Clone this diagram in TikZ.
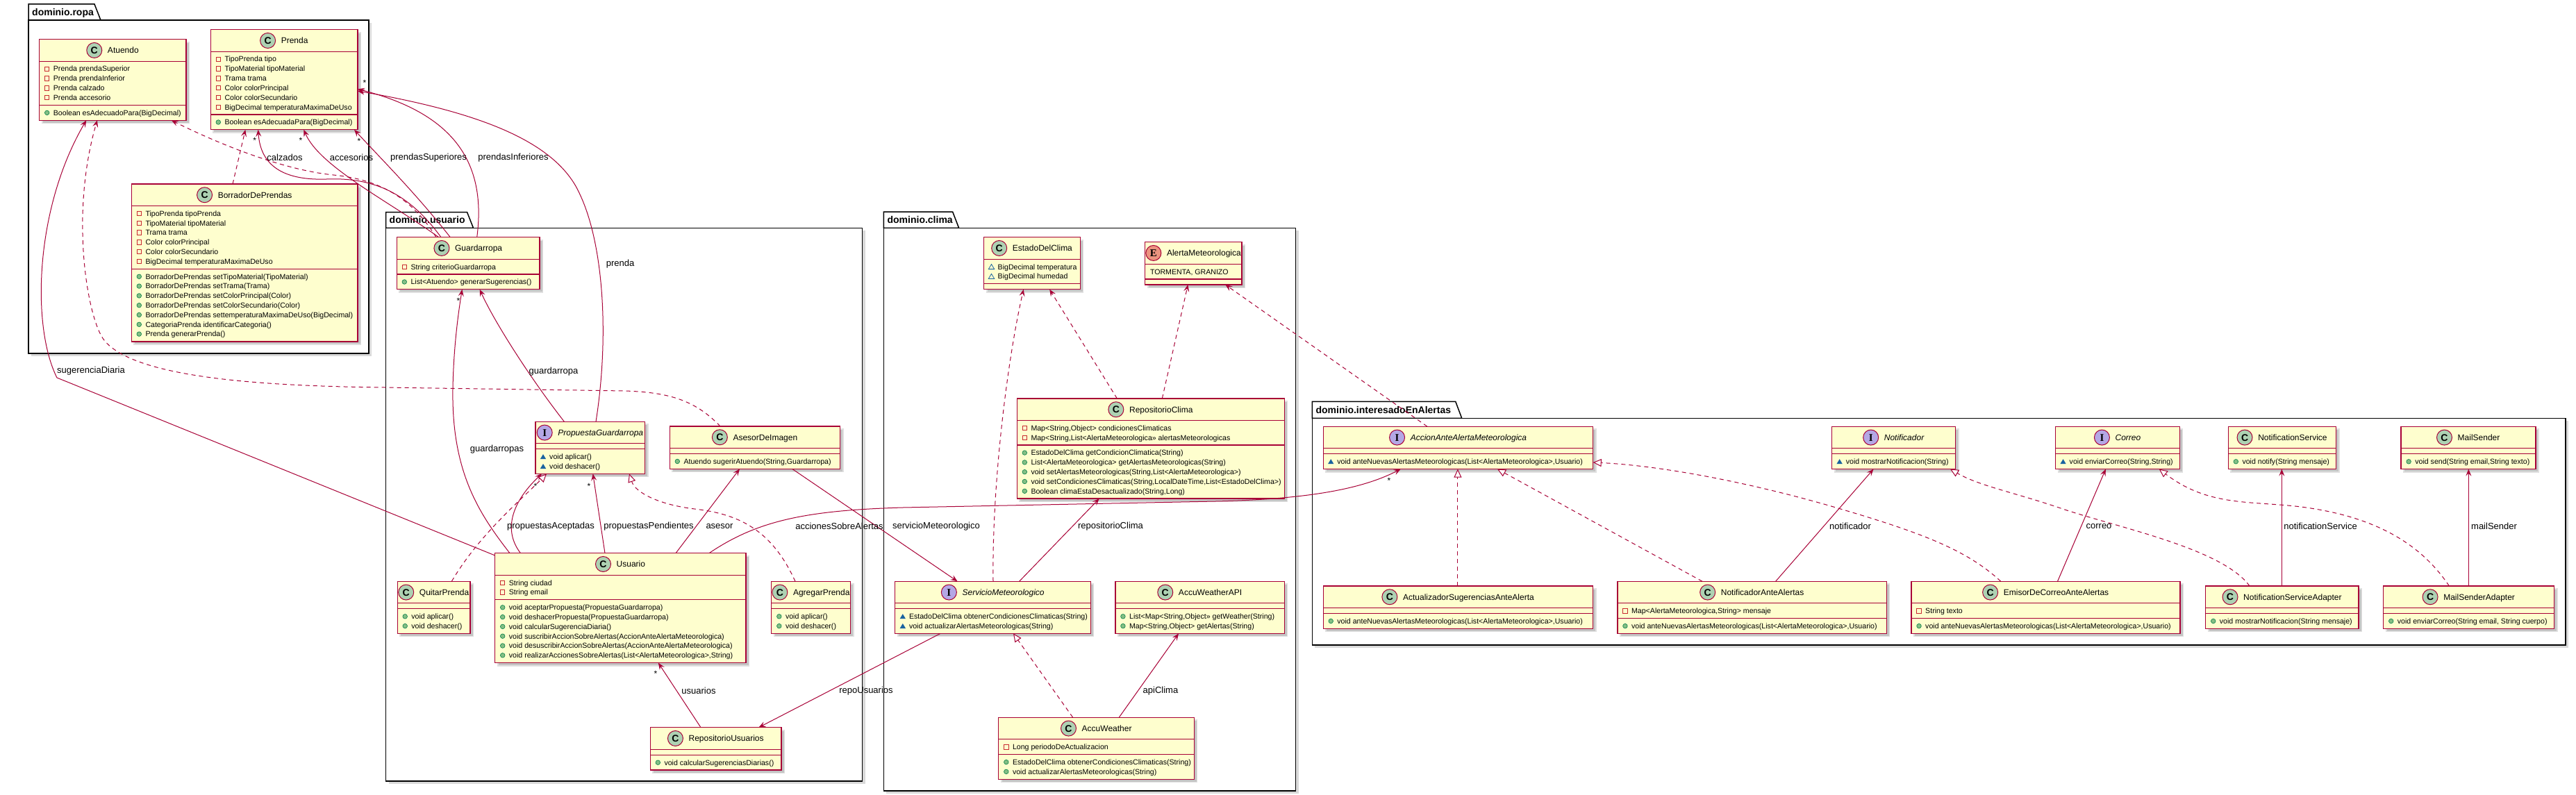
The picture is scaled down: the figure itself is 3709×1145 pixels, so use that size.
\documentclass[tikz,border=0pt]{standalone}
\usepackage{fontspec}
\setmainfont{Liberation Sans}
\newfontfamily\iconsans{Liberation Sans}
\newfontfamily\iconserif{Liberation Serif}
\usetikzlibrary{calc,arrows.meta}

\definecolor{umlborder}{HTML}{A80036}
\definecolor{umlfill}{HTML}{FEFECE}
\definecolor{iconC}{HTML}{ADD1B2}
\definecolor{iconI}{HTML}{B4A7E5}
\definecolor{iconE}{HTML}{EB937F}
\definecolor{visPriv}{HTML}{C82930}
\definecolor{visPubFill}{HTML}{84BE84}
\definecolor{visPubLine}{HTML}{038048}
\definecolor{visPkg}{HTML}{1963A0}

\tikzset{
  classbox/.style={rectangle, draw=umlborder, fill=umlfill, line width=1.3pt, inner sep=0pt, outer sep=0pt},
  classsep/.style={draw=umlborder, line width=1.3pt},
  titletext/.style={inner sep=0pt, font=\fontsize{12}{14}\selectfont},
  memtext/.style={inner sep=0pt, anchor=base west, font=\fontsize{10.6}{13}\selectfont},
  lbl/.style={inner sep=0pt, font=\fontsize{13}{15}\selectfont},
  mult/.style={inner sep=0pt, font=\fontsize{12}{14}\selectfont},
  pkgtitle/.style={inner sep=0pt, anchor=base west, font=\fontsize{14}{16}\selectfont\bfseries},
  conn/.style={draw=umlborder, line width=1pt},
  assoc/.style={conn, -{Stealth[length=10pt,width=8pt,inset=4pt]}},
  dep/.style={assoc, dash pattern=on 6pt off 5pt},
  real/.style={conn, dash pattern=on 6pt off 5pt, -{Triangle[length=12pt,width=11pt,fill=white]}},
}

\newcommand\umlifC{\iconsans\bfseries\fontsize{14}{14}\selectfont}
\newcommand\umlifI{\iconserif\bfseries\fontsize{15}{15}\selectfont}
\newcommand\umlifE{\iconserif\bfseries\fontsize{15}{15}\selectfont}

\newcount\umlcnt
\newcommand\umlcount[1]{\global\umlcnt=0\relax
  \foreach \umlk/\umlt in {#1}{\ifx\umlk\empty\else\global\advance\umlcnt by 1\relax\fi}}

% #1 class node, #2 y of line centre (from top), #3 kind, #4 text, #5 suffix
\newcommand\umlmember[5]{%
  \if f#3\draw[visPriv, line width=0.9pt] ($(#1.north west)+(7.8,#2-3.2)$) rectangle ++(6.4,6.4);\fi
  \if m#3\filldraw[fill=visPubFill, draw=visPubLine, line width=0.6pt] ($(#1.north west)+(11,#2)$) circle (3.3pt);\fi
  \if p#3\fill[visPkg] ($(#1.north west)+(11,#2-3.6)$) -- ++(4.2,7) -- ++(-8.4,0) -- cycle;\fi
  \if q#3\draw[visPkg, line width=0.8pt] ($(#1.north west)+(11,#2-3.6)$) -- ++(4.2,7) -- ++(-8.4,0) -- cycle;\fi
  \if n#3\node[memtext] (#1-#5) at ($(#1.north west)+(7,#2+3.8)$) {#4};%
  \else\node[memtext] (#1-#5) at ($(#1.north west)+(20,#2+3.8)$) {#4};\fi
}

% #1 name, #2 x1, #3 y1, #4 x2, #5 kind, #6 title, #7 attributes, #8 methods
\newcommand\umlclass[8]{%
  \umlcount{#7}\edef\umlna{\the\umlcnt}%
  \umlcount{#8}\edef\umlnm{\the\umlcnt}%
  \pgfmathsetmacro\umlA{31.5}%
  \pgfmathsetmacro\umlB{\umlA+13.8*\umlna+8}%
  \pgfmathsetmacro\umlC{\umlB+13.8*\umlnm+8}%
  \pgfmathsetmacro\umlW{#4-#2}%
  \fill[black,opacity=0.12] ({#2+3},{#3+3}) rectangle ({#4+5},{#3+\umlC+5});%
  \fill[black,opacity=0.12] ({#2+5},{#3+5}) rectangle ({#4+3.5},{#3+\umlC+3.5});%
  \node[classbox, minimum width=\umlW pt, minimum height=\umlC pt, anchor=north west] (#1) at (#2,#3) {};%
  \draw[classsep] ($(#1.north west)+(0,\umlA)$) -- ($(#1.north east)+(0,\umlA)$);%
  \draw[classsep] ($(#1.north west)+(0,\umlB)$) -- ($(#1.north east)+(0,\umlB)$);%
  \node[titletext, anchor=base] (#1-title) at ($(#1.north)+(15,20.05)$) {#6};%
  \filldraw[fill=icon#5, draw=umlborder, line width=1pt] ($(#1-title.base west)+(-19,-4.3)$) circle (11pt);%
  \node[inner sep=0pt, anchor=base, font=\csname umlif#5\endcsname] (#1-icon) at ($(#1-title.base west)+(-19,0.8)$) {#5};%
  \foreach \umlk/\umlt [count=\umli from 0] in {#7}{\ifx\umlk\empty\else
    \pgfmathsetmacro\umly{\umlA+11+13.8*\umli}%
    \umlmember{#1}{\umly}{\umlk}{\umlt}{a\umli}\fi}%
  \foreach \umlk/\umlt [count=\umli from 0] in {#8}{\ifx\umlk\empty\else
    \pgfmathsetmacro\umly{\umlB+11+13.8*\umli}%
    \umlmember{#1}{\umly}{\umlk}{\umlt}{m\umli}\fi}%
}

% #1 name, #2 x left, #3 tab top, #4 tab right, #5 body top, #6 x right, #7 bottom, #8 title
\newcommand\umlpackage[8]{%
  \fill[black,opacity=0.15] ({#2+4},{#5+4}) rectangle ({#6+4},{#7+4});%
  \filldraw[fill=white, draw=black, line width=1.5pt] (#2,#5) -- (#2,#3) -- ({#4-9},#3) -- (#4,#5) -- cycle;%
  \filldraw[fill=white, draw=black, line width=1.5pt] (#2,#5) rectangle (#6,#7);%
  \node[pkgtitle] (#1) at ({#2+5},{(#3+#5)/2+5}) {#8};%
}

\begin{document}
\begin{tikzpicture}[x=1pt,y=-1pt]
\useasboundingbox (0,0) rectangle (3709,1145);
\fill[white] (0,0) rectangle (3709,1145);

% ---------------- packages
\umlpackage{pkg-ropa}{41}{6}{145}{29}{531}{509}{dominio.ropa}
\umlpackage{pkg-usuario}{555.5}{305.5}{681.5}{328.3}{1241.7}{1125}{dominio.usuario}
\umlpackage{pkg-clima}{1272.4}{305}{1380.6}{328.3}{1865.5}{1139}{dominio.clima}
\umlpackage{pkg-alertas}{1889.4}{578.3}{2104.7}{602.3}{3694}{929}{dominio.interesadoEnAlertas}

% ---------------- dominio.ropa
\umlclass{Atuendo}{56.7}{56.7}{268}{C}{Atuendo}{%
f/{Prenda prendaSuperior},%
f/{Prenda prendaInferior},%
f/{Prenda calzado},%
f/{Prenda accesorio}}{%
m/{Boolean esAdecuadoPara(BigDecimal)}}

\umlclass{Prenda}{303.3}{42.7}{515}{C}{Prenda}{%
f/{TipoPrenda tipo},%
f/{TipoMaterial tipoMaterial},%
f/{Trama trama},%
f/{Color colorPrincipal},%
f/{Color colorSecundario},%
f/{BigDecimal temperaturaMaximaDeUso}}{%
m/{Boolean esAdecuadaPara(BigDecimal)}}

\umlclass{BorradorDePrendas}{189.3}{265}{515}{C}{BorradorDePrendas}{%
f/{TipoPrenda tipoPrenda},%
f/{TipoMaterial tipoMaterial},%
f/{Trama trama},%
f/{Color colorPrincipal},%
f/{Color colorSecundario},%
f/{BigDecimal temperaturaMaximaDeUso}}{%
m/{BorradorDePrendas setTipoMaterial(TipoMaterial)},%
m/{BorradorDePrendas setTrama(Trama)},%
m/{BorradorDePrendas setColorPrincipal(Color)},%
m/{BorradorDePrendas setColorSecundario(Color)},%
m/{BorradorDePrendas settemperaturaMaximaDeUso(BigDecimal)},%
m/{CategoriaPrenda identificarCategoria()},%
m/{Prenda generarPrenda()}}

% ---------------- dominio.usuario
\umlclass{Guardarropa}{571.3}{341.7}{777}{C}{Guardarropa}{%
f/{String criterioGuardarropa}}{%
m/{List<Atuendo> generarSugerencias()}}

\umlclass{PropuestaGuardarropa}{771}{607.3}{928.5}{I}{\itshape PropuestaGuardarropa}{}{%
p/{void aplicar()},%
p/{void deshacer()}}

\umlclass{AsesorDeImagen}{964.3}{614}{1209.5}{C}{AsesorDeImagen}{}{%
m/{Atuendo sugerirAtuendo(String,Guardarropa)}}

\umlclass{Usuario}{712.7}{796.7}{1074}{C}{Usuario}{%
f/{String ciudad},%
f/{String email}}{%
m/{void aceptarPropuesta(PropuestaGuardarropa)},%
m/{void deshacerPropuesta(PropuestaGuardarropa)},%
m/{void calcularSugerenciaDiaria()},%
m/{void suscribirAccionSobreAlertas(AccionAnteAlertaMeteorologica)},%
m/{void desuscribirAccionSobreAlertas(AccionAnteAlertaMeteorologica)},%
m/{void realizarAccionesSobreAlertas(List<AlertaMeteorologica>,String)}}

\umlclass{QuitarPrenda}{572.2}{837.3}{677}{C}{QuitarPrenda}{}{%
m/{void aplicar()},%
m/{void deshacer()}}

\umlclass{AgregarPrenda}{1110.8}{837.3}{1224.7}{C}{AgregarPrenda}{}{%
m/{void aplicar()},%
m/{void deshacer()}}

\umlclass{RepositorioUsuarios}{936.3}{1047.7}{1125}{C}{RepositorioUsuarios}{}{%
m/{void calcularSugerenciasDiarias()}}

% ---------------- dominio.clima
\umlclass{EstadoDelClima}{1416.5}{341.7}{1555.3}{C}{EstadoDelClima}{%
q/{BigDecimal temperatura},%
q/{BigDecimal humedad}}{}

\umlclass{AlertaMeteorologica}{1648.8}{348.7}{1788}{E}{AlertaMeteorologica}{%
n/{TORMENTA, GRANIZO}}{}

\umlclass{RepositorioClima}{1464.3}{574}{1849.2}{C}{RepositorioClima}{%
f/{Map<String,Object> condicionesClimaticas},%
f/{Map<String,List<AlertaMeteorologica>> alertasMeteorologicas}}{%
m/{EstadoDelClima getCondicionClimatica(String)},%
m/{List<AlertaMeteorologica> getAlertasMeteorologicas(String)},%
m/{void setAlertasMeteorologicas(String,List<AlertaMeteorologica>)},%
m/{void setCondicionesClimaticas(String,LocalDateTime,List<EstadoDelClima>)},%
m/{Boolean climaEstaDesactualizado(String,Long)}}

\umlclass{ServicioMeteorologico}{1288.8}{837.3}{1570.4}{I}{\itshape ServicioMeteorologico}{}{%
p/{EstadoDelClima obtenerCondicionesClimaticas(String)},%
p/{void actualizarAlertasMeteorologicas(String)}}

\umlclass{AccuWeatherAPI}{1605.9}{837.3}{1849.2}{C}{AccuWeatherAPI}{}{%
m/{List<Map<String,Object>> getWeather(String)},%
m/{Map<String,Object> getAlertas(String)}}

\umlclass{AccuWeather}{1437.8}{1033.3}{1719.4}{C}{AccuWeather}{%
f/{Long periodoDeActualizacion}}{%
m/{EstadoDelClima obtenerCondicionesClimaticas(String)},%
m/{void actualizarAlertasMeteorologicas(String)}}

% ---------------- dominio.interesadoEnAlertas
\umlclass{AccionAnteAlertaMeteorologica}{1905.2}{614.3}{2293.7}{I}{\itshape AccionAnteAlertaMeteorologica}{}{%
p/{void anteNuevasAlertasMeteorologicas(List<AlertaMeteorologica>,Usuario)}}

\umlclass{Notificador}{2637.6}{614.3}{2815.5}{I}{\itshape Notificador}{}{%
p/{void mostrarNotificacion(String)}}

\umlclass{Correo}{2959.5}{614.3}{3138.4}{I}{\itshape Correo}{}{%
p/{void enviarCorreo(String,String)}}

\umlclass{NotificationService}{3208.3}{614.3}{3363.5}{C}{NotificationService}{}{%
m/{void notify(String mensaje)}}

\umlclass{MailSender}{3457.1}{614.3}{3650.9}{C}{MailSender}{}{%
m/{void send(String email,String texto)}}

\umlclass{ActualizadorSugerenciasAnteAlerta}{1905.2}{844}{2293.7}{C}{ActualizadorSugerenciasAnteAlerta}{}{%
m/{void anteNuevasAlertasMeteorologicas(List<AlertaMeteorologica>,Usuario)}}

\umlclass{NotificadorAnteAlertas}{2328.9}{837.3}{2716.2}{C}{NotificadorAnteAlertas}{%
f/{Map<AlertaMeteorologica,String> mensaje}}{%
m/{void anteNuevasAlertasMeteorologicas(List<AlertaMeteorologica>,Usuario)}}

\umlclass{EmisorDeCorreoAnteAlertas}{2752}{837.3}{3139}{C}{EmisorDeCorreoAnteAlertas}{%
f/{String texto}}{%
m/{void anteNuevasAlertasMeteorologicas(List<AlertaMeteorologica>,Usuario)}}

\umlclass{NotificationServiceAdapter}{3175.7}{844}{3396.1}{C}{NotificationServiceAdapter}{}{%
m/{void mostrarNotificacion(String mensaje)}}

\umlclass{MailSenderAdapter}{3431.7}{844}{3677.5}{C}{MailSenderAdapter}{}{%
m/{void enviarCorreo(String email, String cuerpo)}}

% ================= connectors
% ropa
\draw[assoc] (Usuario.west |- 0,800) -- (82,544) .. controls (45,470) and (50,300) .. (124.3,0 |- Atuendo.south);
\draw[dep] (1037,0 |- AsesorDeImagen.north) .. controls (1000,575) and (960,565) .. (900,563) -- (555,558) .. controls (350,556) and (190,540) .. (150,490) .. controls (126,460) and (100,310) .. (140,0 |- Atuendo.south);
\draw[dep] (628,0 |- Guardarropa.north) .. controls (590,280) and (540,258) .. (480,252) .. controls (400,244) and (300,200) .. (246.7,0 |- Atuendo.south);
\draw[dep] (335,0 |- BorradorDePrendas.north) -- (353.3,0 |- Prenda.south);
\draw[assoc] (635,0 |- Guardarropa.north) .. controls (590,280) and (540,255) .. (470,258) .. controls (410,260) and (375,240) .. (371.7,0 |- Prenda.south);
\draw[assoc] (631.7,0 |- Guardarropa.north) .. controls (560,290) and (460,240) .. (437.3,0 |- Prenda.south);
\draw[assoc] (648.3,0 |- Guardarropa.north) .. controls (600,280) and (550,230) .. (510,0 |- Prenda.south);
\draw[assoc] (686.7,0 |- Guardarropa.north) .. controls (700,240) and (660,165) .. (Prenda.east |- 0,128.3);
\draw[assoc] (858,0 |- PropuestaGuardarropa.north) .. controls (878,480) and (868,350) .. (835,280) .. controls (800,200) and (680,160) .. (Prenda.east |- 0,131);

% usuario
\draw[assoc] (734,0 |- Usuario.north) .. controls (690,740) and (650,680) .. (652,560) .. controls (653,500) and (660,450) .. (665.4,0 |- Guardarropa.south);
\draw[assoc] (812.4,0 |- PropuestaGuardarropa.north) .. controls (760,540) and (710,460) .. (690.7,0 |- Guardarropa.south);
\draw[assoc] (749.5,0 |- Usuario.north) .. controls (725,765) and (735,725) .. (780,0 |- PropuestaGuardarropa.south);
\draw[real] (650.3,0 |- QuitarPrenda.north) .. controls (690,770) and (750,720) .. (787,0 |- PropuestaGuardarropa.south);
\draw[assoc] (871,0 |- Usuario.north) -- (853.7,0 |- PropuestaGuardarropa.south);
\draw[real] (1145,0 |- AgregarPrenda.north) .. controls (1110,760) and (1060,740) .. (1000,733) .. controls (950,727) and (915,710) .. (906,0 |- PropuestaGuardarropa.south);
\draw[assoc] (973,0 |- Usuario.north) -- (1065,0 |- AsesorDeImagen.south);
\draw[assoc] (1140.6,0 |- AsesorDeImagen.south) -- (1378.6,0 |- ServicioMeteorologico.north);
\draw[assoc] (1021,0 |- Usuario.north) .. controls (1090,750) and (1160,735) .. (1300,731) -- (1750,722) .. controls (1880,719) and (1960,705) .. (2016.7,0 |- AccionAnteAlertaMeteorologica.south);
\draw[assoc] (1354,0 |- ServicioMeteorologico.south) -- (1092.4,0 |- RepositorioUsuarios.north);
\draw[assoc] (1009,0 |- RepositorioUsuarios.north) -- (947.8,0 |- Usuario.south);

% clima
\draw[dep] (1430,0 |- ServicioMeteorologico.north) .. controls (1428,700) and (1450,520) .. (1473.7,0 |- EstadoDelClima.south);
\draw[dep] (1608.4,0 |- RepositorioClima.north) -- (1511.2,0 |- EstadoDelClima.south);
\draw[dep] (1673.3,0 |- RepositorioClima.north) -- (1710.4,0 |- AlertaMeteorologica.south);
\draw[dep] (2055,0 |- AccionAnteAlertaMeteorologica.north) -- (1764.3,0 |- AlertaMeteorologica.south);
\draw[assoc] (1467.6,0 |- ServicioMeteorologico.north) -- (1582.7,0 |- RepositorioClima.south);
\draw[real] (1544.7,0 |- AccuWeather.north) -- (1459,0 |- ServicioMeteorologico.south);
\draw[assoc] (1611.2,0 |- AccuWeather.north) -- (1697,0 |- AccuWeatherAPI.south);

% interesadoEnAlertas
\draw[real] (2098.9,0 |- ActualizadorSugerenciasAnteAlerta.north) -- (2098.9,0 |- AccionAnteAlertaMeteorologica.south);
\draw[real] (2451,0 |- NotificadorAnteAlertas.north) -- (2156,0 |- AccionAnteAlertaMeteorologica.south);
\draw[real] (2880.7,0 |- EmisorDeCorreoAnteAlertas.north) .. controls (2830,790) and (2760,765) .. (2633,728) .. controls (2500,690) and (2380,670) .. (AccionAnteAlertaMeteorologica.east |- 0,666);
\draw[assoc] (2556.6,0 |- NotificadorAnteAlertas.north) -- (2697.5,0 |- Notificador.south);
\draw[real] (3239,0 |- NotificationServiceAdapter.north) .. controls (3200,790) and (3050,760) .. (2970,733) .. controls (2900,709) and (2850,700) .. (2808,0 |- Notificador.south);
\draw[assoc] (2962.5,0 |- EmisorDeCorreoAnteAlertas.north) -- (3031.8,0 |- Correo.south);
\draw[real] (3526.4,0 |- MailSenderAdapter.north) .. controls (3490,790) and (3430,745) .. (3313,730) .. controls (3240,721) and (3180,730) .. (3108.8,0 |- Correo.south);
\draw[assoc] (3285.3,0 |- NotificationServiceAdapter.north) -- (3285.3,0 |- NotificationService.south);
\draw[assoc] (3554.3,0 |- MailSenderAdapter.north) -- (3554.3,0 |- MailSender.south);

% ================= connector labels
\node[lbl] (l-sug) at (131,534) {sugerenciaDiaria};
\node[lbl] (l-calz) at (410,227) {calzados};
\node[lbl] (l-acc) at (506,227) {accesorios};
\node[lbl] (l-sup) at (617,227) {prendasSuperiores};
\node[lbl] (l-inf) at (739,227) {prendasInferiores};
\node[lbl] (l-prenda) at (893,380) {prenda};
\node[lbl] (l-gs) at (715.5,646.7) {guardarropas};
\node[lbl] (l-g) at (797,535) {guardarropa};
\node[lbl] (l-pa) at (793,757.7) {propuestasAceptadas};
\node[lbl] (l-pp) at (934,757.7) {propuestasPendientes};
\node[lbl] (l-as) at (1036,757.7) {asesor};
\node[lbl] (l-acs) at (1208.5,757.7) {accionesSobreAlertas};
\node[lbl] (l-sm) at (1348,757.7) {servicioMeteorologico};
\node[lbl] (l-rc) at (1599,757.7) {repositorioClima};
\node[lbl] (l-ru) at (1247,995) {repoUsuarios};
\node[lbl] (l-us) at (1006,995) {usuarios};
\node[lbl] (l-api) at (1671,995) {apiClima};
\node[lbl] (l-not) at (2664,757.7) {notificador};
\node[lbl] (l-cor) at (3022,757.7) {correo};
\node[lbl] (l-ns) at (3341,757.7) {notificationService};
\node[lbl] (l-ms) at (3591,757.7) {mailSender};

% multiplicities
\node[mult] (m1) at (366.7,202) {*};
\node[mult] (m2) at (433,202) {*};
\node[mult] (m3) at (517,203) {*};
\node[mult] (m4) at (525,119) {*};
\node[mult] (m5) at (660,433) {*};
\node[mult] (m6) at (771,700) {*};
\node[mult] (m7) at (848,700) {*};
\node[mult] (m8) at (944,970) {*};
\node[mult] (m9) at (2000,692) {*};
\end{tikzpicture}
\end{document}
